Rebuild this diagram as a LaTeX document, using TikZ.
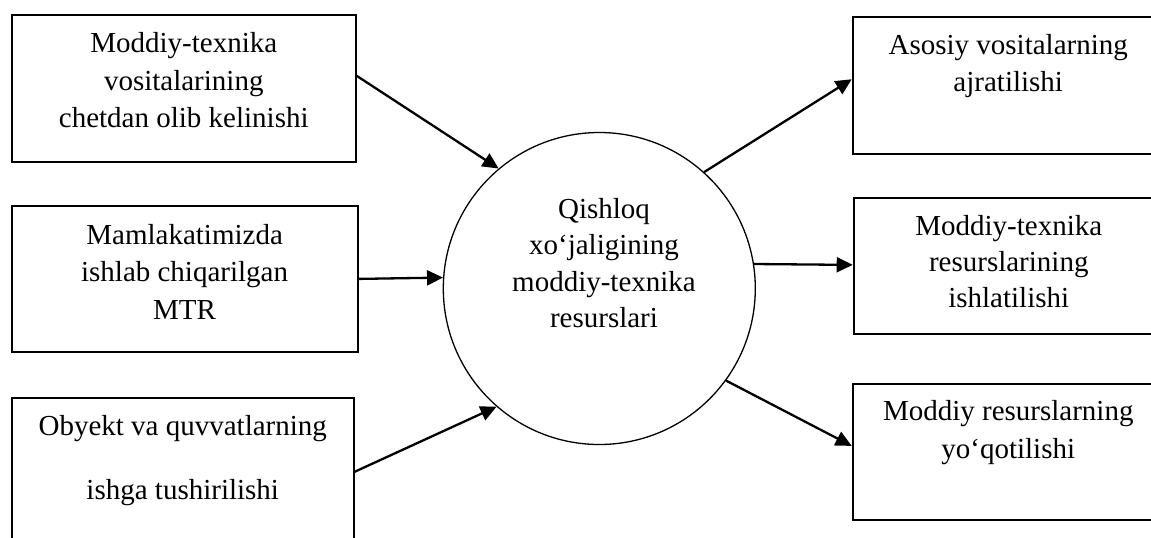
\documentclass[tikz,border=0pt]{standalone}
\usepackage{fontspec}
\setmainfont{Liberation Serif}
\usetikzlibrary{arrows.meta}
\tikzset{
  boxnode/.style={draw, line width=0.9pt, inner sep=0pt, anchor=north west, align=center,
    font=\fontsize{14.5pt}{18.75pt}\selectfont},
  hub/.style={draw, circle, line width=0.65pt, inner sep=0pt, minimum size=156pt, align=center,
    font=\fontsize{14.5pt}{18.33pt}\selectfont},
  arr/.style={-{Triangle[length=8pt,width=7.5pt]}, line width=1.15pt}
}
\newcommand{\shiftr}{\hspace*{4.7pt}}
\begin{document}
\begin{tikzpicture}[x=0.5pt,y=-0.5pt]
\useasboundingbox (0,0) rectangle (1151,537);
\fill[white] (0,0) rectangle (1151,537);
\clip (0,0) rectangle (1151,537);
% left boxes
\node[boxnode, minimum width=172.15pt] (b1) at (10.7,14)
  {\rule{0pt}{18.85pt}Moddiy-texnika\\vositalarining\\chetdan olib kelinishi\rule[-17.15pt]{0pt}{0pt}};
\node[boxnode, minimum width=173pt] (b2) at (10.7,205)
  {\rule{0pt}{19.15pt}Mamlakatimizda\\ishlab chiqarilgan\\MTR\rule[-16.35pt]{0pt}{0pt}};
\node[boxnode, minimum width=170.85pt] (b3) at (11,396.7)
  {\rule{0pt}{19.15pt}Obyekt va quvvatlarning\\[13.25pt]ishga tushirilishi\rule[-30.5pt]{0pt}{0pt}};
% centre
\node[hub] (c) at (599.3,288.5)
  {\rule{0pt}{13pt}\shiftr Qishloq\\\shiftr xo‘jaligining\\\shiftr moddiy-texnika\\\shiftr resurslari\rule[-28.5pt]{0pt}{0pt}};
% right boxes
\node[boxnode, minimum width=155.65pt] (bA) at (851.7,16)
  {\rule{0pt}{18.65pt}Asosiy vositalarning\\ajratilishi\rule[-30.95pt]{0pt}{0pt}};
\node[boxnode, minimum width=155.15pt, font=\fontsize{14.5pt}{18pt}\selectfont] (bB) at (852.7,197.3)
  {\rule{0pt}{18.85pt}Moddiy-texnika\\resurslarining\\ishlatilishi\rule[-13.15pt]{0pt}{0pt}};
\node[boxnode, minimum width=155.65pt] (bC) at (851.7,382.7)
  {\rule{0pt}{18.65pt}Moddiy resurslarning\\yo‘qotilishi\rule[-30.9pt]{0pt}{0pt}};
% connectors
\draw[arr] ([yshift=6.25pt]b1.east) -- (c.130.8);
\draw[arr] (b2.east) -- (c.176.5);
\draw[arr] ([yshift=3.7pt]b3.east) -- (c.229.9);
\draw[arr] (c.48.6) -- ([yshift=3pt]bA.west);
\draw[arr] (c.9) -- ([yshift=0.65pt]bB.west);
\draw[arr] (c.324.2) -- ([yshift=3pt]bC.west);
\end{tikzpicture}
\end{document}
